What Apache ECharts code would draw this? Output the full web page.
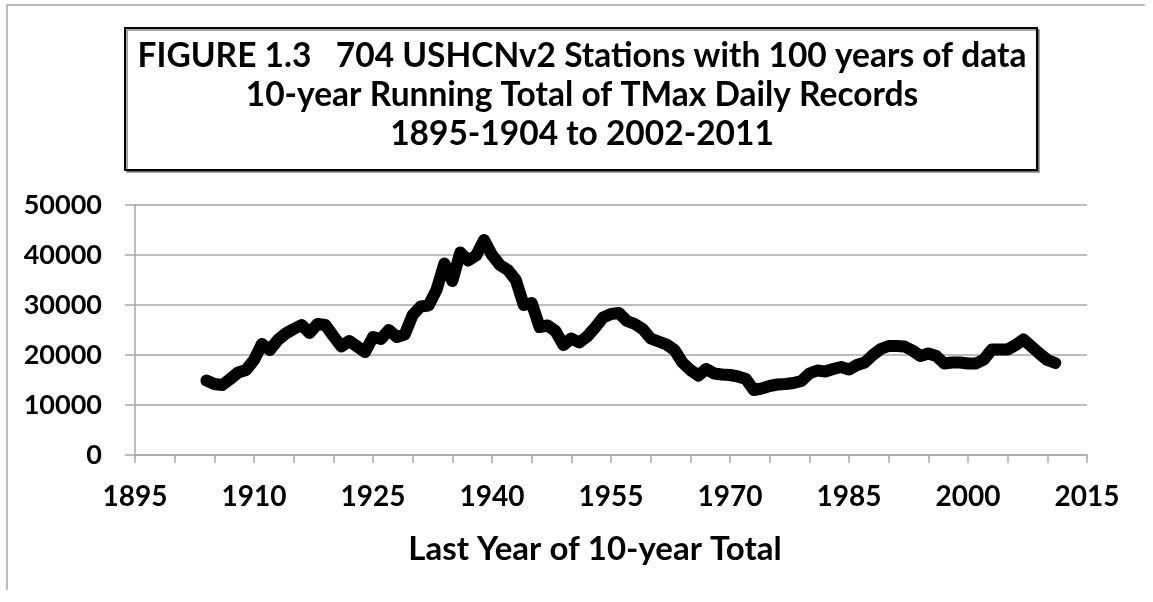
<!DOCTYPE html>
<html>
<head>
<meta charset="utf-8">
<script src="https://cdn.jsdelivr.net/npm/echarts@6/dist/echarts.min.js"></script>
<style>
  html, body { margin: 0; padding: 0; background: #fff; }
  #chart { width: 1153px; height: 602px; }
</style>
</head>
<body>
<div id="chart"></div>
<script>
// last year of each 10-year window
let years = [];
for (let y = 1904; y <= 2011; y++) years.push(y);

// 10-year running total of TMax daily records
let records = [
    14900, 14200, 14000, 15200, 16500, 17000, 19000, 22200, 21000, 23000, // 1904-1913
    24300, 25200, 26000, 24400, 26200, 26000, 23800, 21700, 22800, 21700, // 1914-1923
    20600, 23600, 23200, 25000, 23600, 24100, 28000, 29700, 29900, 33000, // 1924-1933
    38300, 34800, 40500, 38900, 39900, 43000, 40000, 38000, 37000, 35000, // 1934-1943
    30000, 30400, 25600, 25900, 24800, 22000, 23300, 22500, 23700, 25500, // 1944-1953
    27500, 28200, 28400, 26800, 26200, 25200, 23300, 22700, 22100, 21000, // 1954-1963
    18500, 17000, 15900, 17200, 16300, 16100, 16000, 15700, 15200, 13000, // 1964-1973
    13300, 13800, 14100, 14200, 14400, 14800, 16300, 16900, 16700, 17200, // 1974-1983
    17600, 17100, 18000, 18500, 20000, 21200, 21800, 21800, 21700, 20900, // 1984-1993
    19800, 20300, 19800, 18300, 18500, 18500, 18300, 18300, 19100, 21100, // 1994-2003
    21100, 21100, 22000, 23100, 21700, 20300, 19000, 18400                // 2004-2011
];

let title_lines = [
    'FIGURE 1.3   704 USHCNv2 Stations with 100 years of data',
    '10-year Running Total of TMax Daily Records',
    '1895-1904 to 2002-2011'
];
let x_name = 'Last Year of 10-year Total';

let font = 'Lato, "Open Sans", sans-serif';
let grey = '#a6a6a6';

let chart = echarts.init(document.getElementById('chart'), null, { renderer: 'canvas' });

let option = {
    animation: false,
    backgroundColor: '#fff',
    grid: { left: 135, right: 66, top: 205, bottom: 147 },
    xAxis: {
        type: 'value',
        min: 1895,
        max: 2015,
        interval: 5,
        axisLine: { show: true, lineStyle: { color: grey, width: 1.5 } },
        axisTick: { show: true, length: 8, lineStyle: { color: grey, width: 1.5 } },
        splitLine: { show: false },
        axisLabel: {
            margin: 28,
            color: '#000',
            fontFamily: font,
            fontWeight: 'bold',
            fontSize: 28,
            formatter: function (v) { return (v - 1895) % 15 === 0 ? String(v) : ''; }
        }
    },
    yAxis: {
        type: 'value',
        min: 0,
        max: 50000,
        interval: 10000,
        axisLine: { show: true, lineStyle: { color: grey, width: 1.5 } },
        axisTick: { show: true, length: 10, lineStyle: { color: grey, width: 1.5 } },
        splitLine: { show: true, lineStyle: { color: grey, width: 1.5 } },
        axisLabel: {
            margin: 33,
            color: '#000',
            fontFamily: font,
            fontWeight: 'bold',
            fontSize: 27,
            formatter: function (v) { return String(v); }
        }
    },
    series: [{
        type: 'line',
        data: years.map((y, i) => [y, records[i]]),
        showSymbol: false,
        smooth: false,
        lineStyle: { color: '#000', width: 12, join: 'round', cap: 'round' }
    }],
    graphic: [
        // outer chart-area frame
        { type: 'polyline', shape: { points: [[7, 590], [7, 5], [1145, 5]] },
          style: { stroke: grey, lineWidth: 1.5, fill: null } },
        // title box
        { type: 'rect', shape: { x: 125, y: 28, width: 912, height: 142 },
          style: { stroke: '#000', lineWidth: 2, fill: '#fff',
                   shadowColor: 'rgba(0,0,0,0.35)', shadowOffsetX: 2, shadowOffsetY: 2 } },
        { type: 'text', x: 582, y: 56, style: { text: title_lines[0], fill: '#000', font: 'bold 33.5px ' + font, align: 'center', verticalAlign: 'middle' } },
        { type: 'text', x: 582, y: 95, style: { text: title_lines[1], fill: '#000', font: 'bold 33.5px ' + font, align: 'center', verticalAlign: 'middle' } },
        { type: 'text', x: 582, y: 134, style: { text: title_lines[2], fill: '#000', font: 'bold 33.5px ' + font, align: 'center', verticalAlign: 'middle' } },
        { type: 'text', x: 595, y: 549, style: { text: x_name, fill: '#000', font: 'bold 33px ' + font, align: 'center', verticalAlign: 'middle' } }
    ]
};

chart.setOption(option);
</script>
</body>
</html>
